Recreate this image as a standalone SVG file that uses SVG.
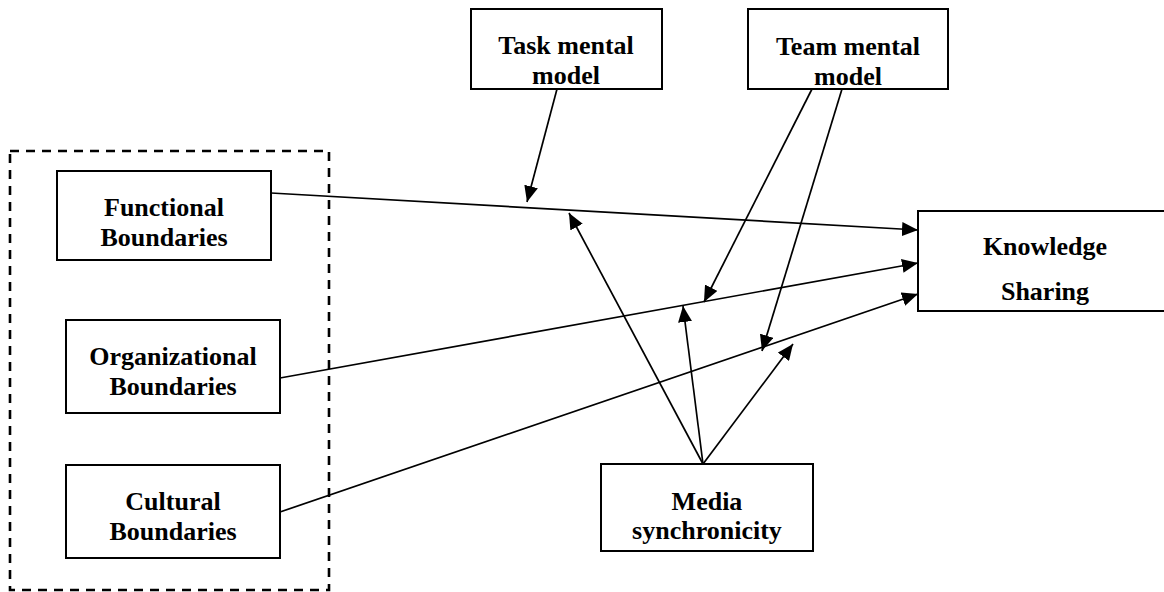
<svg xmlns="http://www.w3.org/2000/svg" width="1164" height="592" viewBox="0 0 1164 592">
<style>
.box{fill:#fff;stroke:#000;stroke-width:2}
.t{font-family:"Liberation Serif","Times New Roman",serif;font-weight:bold;font-size:26px;fill:#000;text-anchor:middle}
.c{stroke:#000;stroke-width:1.7;fill:none;marker-end:url(#ah)}
</style>
<defs>
<marker id="ah" markerUnits="userSpaceOnUse" markerWidth="18" markerHeight="14" refX="16" refY="7" orient="auto">
<path d="M0,0 L16,7 L0,14 Z" fill="#000"/>
</marker>
</defs>
<rect id="group" x="10" y="151" width="319" height="439" fill="none" stroke="#000" stroke-width="2.6" stroke-dasharray="9,7"/>
<g id="functional"><rect class="box" x="57" y="171" width="214" height="89"/><text class="t" x="164" y="216">Functional</text><text class="t" x="164" y="246">Boundaries</text></g>
<g id="organizational"><rect class="box" x="66" y="320" width="214" height="93"/><text class="t" x="173" y="365">Organizational</text><text class="t" x="173" y="395">Boundaries</text></g>
<g id="cultural"><rect class="box" x="66" y="465" width="214" height="93"/><text class="t" x="173" y="510">Cultural</text><text class="t" x="173" y="540">Boundaries</text></g>
<g id="task"><rect class="box" x="471" y="9" width="191" height="80"/><text class="t" x="566" y="54">Task mental</text><text class="t" x="566" y="83.5">model</text></g>
<g id="team"><rect class="box" x="748" y="9" width="200" height="80"/><text class="t" x="848" y="55">Team mental</text><text class="t" x="848" y="84.5">model</text></g>
<g id="knowledge"><rect class="box" x="918" y="211" width="250" height="100"/><text class="t" x="1045" y="255">Knowledge</text><text class="t" x="1045" y="300">Sharing</text></g>
<g id="media"><rect class="box" x="601" y="464" width="212" height="87"/><text class="t" x="707" y="510">Media</text><text class="t" x="707" y="539">synchronicity</text></g>
<g id="connectors">
<line class="c" x1="271" y1="193" x2="918" y2="230"/>
<line class="c" x1="280" y1="378" x2="918" y2="263"/>
<line class="c" x1="280" y1="512" x2="918" y2="294"/>
<line class="c" x1="557" y1="89" x2="527" y2="202"/>
<line class="c" x1="812" y1="89" x2="704" y2="302"/>
<line class="c" x1="842" y1="89" x2="762" y2="351"/>
<line class="c" x1="703" y1="464" x2="569" y2="213"/>
<line class="c" x1="703" y1="464" x2="683" y2="306"/>
<line class="c" x1="703" y1="464" x2="793" y2="344"/>
</g>
</svg>
